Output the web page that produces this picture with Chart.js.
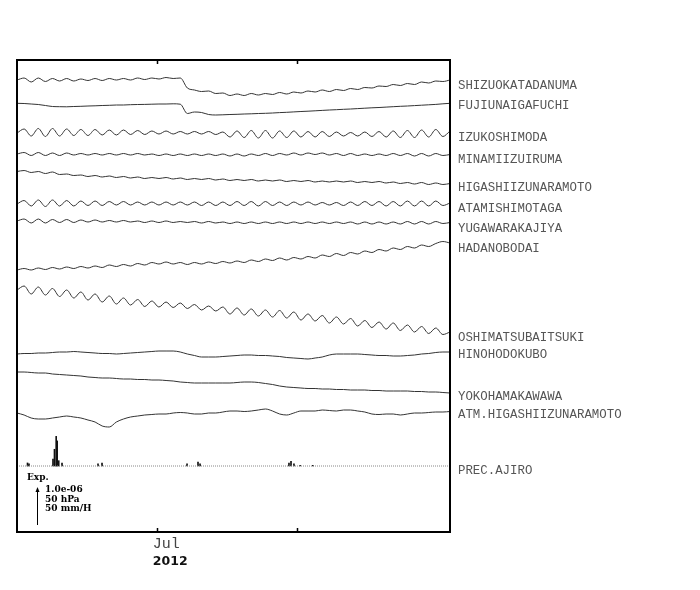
<!DOCTYPE html>
<html>
<head>
<meta charset="utf-8">
<script src="https://cdn.jsdelivr.net/npm/chart.js@4.4.1/dist/chart.umd.min.js"></script>
<style>
  html, body { margin: 0; background: #fff; }
</style>
</head>
<body>
<canvas id="strain" width="700" height="590"></canvas>
<script>
// station names, top to bottom
const stations = ['SHIZUOKATADANUMA', 'FUJIUNAIGAFUCHI', 'IZUKOSHIMODA', 'MINAMIIZUIRUMA',
  'HIGASHIIZUNARAMOTO', 'ATAMISHIMOTAGA', 'YUGAWARAKAJIYA', 'HADANOBODAI',
  'OSHIMATSUBAITSUKI', 'HINOHODOKUBO', 'YOKOHAMAKAWAWA', 'ATM.HIGASHIIZUNARAMOTO']

// trace baselines (plot units, from bottom of frame)
const offsets = [447, 427, 395, 373, 345, 324, 304, 284, 195, 178, 136, 118]
const precOffset = 66

// days since 31 May 2012, samples every 96/61 days
const dayMax = 96
const monthTicks = [31, 62]
const monthLabels = ['Jul', '']
const yearLabel = '2012'

const shizuoka = [5, 7, 3, 7, 3.5, 6.5, 4, 6.5, 4, 6,
  4.5, 6.5, 4.5, 6.5, 5, 6.5, 5, 7, 5.5, 7,
  6, 7.5, 6.5, 7, -3, -5, -6.5, -6, -8.5, -8,
  -10.5, -9, -10.5, -8.5, -10, -8.5, -9.5, -7.5, -9, -7,
  -8, -6, -7, -5, -6.5, -4.5, -5.5, -3.5, -4.5, -2.5,
  -3, -1, -1.5, 0.5, -0.5, 1.5, 0.5, 3, 2, 4,
  3.5, 5]
const fujiunai = [1.7, 1.5, 1, 0.5, -0.5, -1.5, -1.7, -1.8, -1.5, -1.3,
  -1, -0.8, -0.5, -0.3, 0, 0, 0.3, 0.5, 0.6, 0.8,
  1, 1, 1.2, 0.8, -8.5, -7, -7.5, -9.5, -10, -9.8,
  -9.5, -9.3, -9, -8.8, -8.5, -8.3, -8, -7.6, -7.3, -6.9,
  -6.5, -6.2, -5.8, -5.4, -5, -4.7, -4.3, -4, -3.6, -3.2,
  -2.8, -2.5, -2.1, -1.7, -1.3, -1, -0.6, -0.2, 0.2, 0.6,
  1.2, 1.7]
const izukoshimoda = [4, 8, 1, 8.5, 0.5, 8.5, 1, 8, 1.5, 7.5,
  1.5, 7.5, 2, 7, 2, 7, 2.5, 6.5, 2.5, 6,
  3, 6, 3, 5.5, 3, 5.5, 3, 5.5, 2.5, 5,
  0, 6, -0.5, 6.5, -1, 6.5, -1, 6, -0.5, 6,
  0, 5.5, 0, 5.5, 0.5, 5, 1, 4.5, 1, 5,
  0.5, 5.5, 0, 6, -0.5, 6.5, -0.5, 7, 0, 7.5,
  0.5, 6]
const minamiizu = [5, 6.5, 3.5, 6.5, 3.5, 6, 3.5, 6, 4, 5.5,
  4, 5.5, 4, 5.5, 4, 5.5, 4, 5.5, 4, 5,
  3.5, 5, 3.5, 5, 3.5, 5, 3.5, 5, 3.5, 5,
  3, 5, 3, 5, 3.5, 5.5, 3.5, 5.5, 4, 6,
  4, 6, 4.5, 6, 4, 5.5, 3.5, 5.5, 3.5, 5,
  3.5, 5, 3.5, 5.5, 3.5, 5.5, 3, 5.5, 3, 5.5,
  3.5, 4.5]
const higashiizu = [15.5, 16.5, 14.5, 15.5, 13.5, 15, 12.5, 13, 11.5, 12,
  10.5, 11.5, 10, 11, 9.5, 10.5, 9, 10, 8.5, 9.5,
  8.5, 9.5, 8, 9, 7.5, 8.5, 7.5, 8.5, 7, 8,
  6.5, 7.5, 6.5, 7.5, 6, 7, 6, 7, 5.5, 6.5,
  5.5, 6.5, 5, 6, 5, 6, 5, 6, 4.5, 5.5,
  4.5, 5.5, 4, 5, 3.5, 4.5, 3, 4.5, 2.5, 4,
  2.5, 3.5]
const atami = [4, 7.5, 2, 8, 1.5, 8, 2, 7.5, 2, 7,
  2.5, 7, 2.5, 6.5, 3, 6.5, 3, 6, 3, 6,
  3, 6, 3, 6, 3, 6, 2.5, 6, 2.5, 6,
  2.5, 6.5, 2.5, 6.5, 2, 6.5, 2.5, 6, 2.5, 6,
  3, 6, 3, 5.5, 3, 5.5, 2.5, 6, 2.5, 6.5,
  2.5, 6.5, 2, 6.5, 2, 7, 2, 7, 2, 7,
  2.5, 5]
const yugawara = [7, 9, 5, 9, 5, 8.5, 5.5, 8.5, 5.5, 8,
  6, 8, 6, 7.5, 6, 7.5, 6, 7, 5.5, 7,
  5.5, 7, 5.5, 6.5, 5.5, 6.5, 5, 6.5, 5, 6,
  4.5, 6, 4.5, 6, 4.5, 6, 4.5, 6, 4.5, 6,
  4.5, 6, 4.5, 6, 4.5, 6, 4.5, 6, 4, 6,
  4, 6, 4, 6, 4, 6.5, 4, 6.5, 4, 6.5,
  4.5, 5.5]
const hadano = [-22, -20.5, -22, -20, -21.5, -19.5, -21, -19, -20.5, -18.5,
  -20, -18, -19.5, -17, -18.5, -16.5, -18, -15.5, -17, -14.5,
  -16, -14, -16, -14.5, -16.5, -14.5, -16, -14, -15.5, -13.5,
  -15, -13, -14.5, -12, -13.5, -11, -12.5, -10, -12, -9.5,
  -11, -8.5, -10, -7, -8.5, -5.5, -7.5, -4.5, -6, -3,
  -4.5, -1.5, -3, 0, -1.5, 1.5, 0, 3, 1.5, 4.5,
  6.5, 5]
const oshima = [47, 51, 43, 50, 42, 48.5, 40.5, 47, 39, 45,
  37, 43, 35, 41, 33, 39, 32, 37.5, 30.5, 36,
  30, 35, 29.5, 34, 28.5, 32.5, 27, 31, 26, 30,
  23, 29, 22, 28, 21, 27, 20, 26.5, 19, 25,
  17, 23, 16, 21.5, 14, 20, 13, 18.5, 11, 16.5,
  9.5, 15, 8, 14, 6.5, 12, 5, 10.5, 3.5, 9,
  2.5, 5]
const hinohodo = [0, 0.5, 0.5, 1, 1, 1.5, 2, 2, 2.5, 2,
  1.5, 1, 0.5, 0.5, 0, 0.5, 1, 1.5, 2, 2.5,
  3, 3, 3, 2, 0, -1.5, -3, -3, -3, -2.5,
  -2, -1.5, -1, -1, -1.5, -1.5, -2, -2.5, -3.5, -4,
  -4.5, -5, -4, -3, -1, 0, 0, 0, 0, -0.5,
  -1, -1.5, -1.5, -2, -2, -1.5, -1, 0, 0.5, 1.5,
  2, 2]
const yokohama = [24, 24, 23.5, 23, 23, 22, 21.5, 21, 20.5, 20,
  19, 18.5, 18, 18, 17.5, 17, 17, 16.5, 16.5, 16,
  16, 15.5, 15, 14, 13.5, 13, 13, 13, 13, 13,
  13, 13.5, 14, 14, 13.5, 12.5, 11.5, 10, 9, 8.5,
  8, 7.5, 7.5, 7, 7, 6.5, 6.5, 6, 6, 6,
  5.5, 5.5, 5, 5, 5, 5, 4.5, 4.5, 4, 4,
  3.5, 3]
const atmHigashi = [1, -1, -4, -5, -5, -4, -3, -2, -3, -4,
  -6, -8, -12, -13, -8, -5, -3, -2, -1, -0.5,
  0, 0, 1, 1.5, 1, 0, 0, 1, 1, 2,
  3, 3, 2.5, 3, 4, 5, 3, 0, -1, 1,
  3, 3, 3, 4, 3.5, 3, 4, 4, 3, 2,
  0, -0.5, 0, 0, -1, 0, 1, 1, 1.5, 2,
  2, 2.5]

const traces = [shizuoka, fujiunai, izukoshimoda, minamiizu, higashiizu, atami,
  yugawara, hadano, oshima, hinohodo, yokohama, atmHigashi]

// hourly precipitation at Ajiro (mm/H)
const rainDay = [2.33, 2.66, 7.98, 8.31, 8.69, 8.91, 9.25, 9.98, 17.96, 18.85,
  37.7, 40.13, 40.58, 60.3, 60.75, 61.4, 62.75, 65.6]
const rainMm = [4, 3, 9, 22, 39, 33, 7, 4, 3, 4, 3, 5, 3, 4, 6, 3, 1, 1]
const rainScale = 0.76   // 50 mm/H = 38 plot units (arrow)

const step = dayMax / (shizuoka.length - 1)

var datasets = traces.map(function(vals, k) {
  return {
    label: stations[k],
    data: vals.map(function(v, i) { return { x: i * step, y: offsets[k] + v } }),
    borderColor: '#333',
    borderWidth: 1,
    pointRadius: 0,
    cubicInterpolationMode: 'monotone',
    fill: false
  }
})

datasets.push({
  label: 'PREC.AJIRO base',
  data: [{ x: 0, y: precOffset }, { x: dayMax, y: precOffset }],
  borderColor: '#888',
  borderWidth: 1,
  borderDash: [1, 1],
  pointRadius: 0
})

datasets.push({
  type: 'bar',
  label: 'PREC.AJIRO',
  data: rainDay.map(function(d, i) { return { x: d, y: [precOffset, precOffset + rainMm[i] * rainScale] } }),
  backgroundColor: '#111',
  barThickness: 1,
  grouped: false
})

const decor = {
  id: 'decor',
  afterDraw: function(chart) {
    const ctx = chart.ctx
    const a = chart.chartArea
    const xs = chart.scales.x
    const ys = chart.scales.y
    ctx.save()

    // frame
    ctx.strokeStyle = '#000'
    ctx.lineWidth = 2
    ctx.strokeRect(a.left, a.top, a.right - a.left, a.bottom - a.top)

    // month ticks top and bottom
    ctx.lineWidth = 1.5
    monthTicks.forEach(function(d) {
      const px = Math.round(xs.getPixelForValue(d)) + 0.5
      ctx.beginPath()
      ctx.moveTo(px, a.top); ctx.lineTo(px, a.top + 4)
      ctx.moveTo(px, a.bottom); ctx.lineTo(px, a.bottom - 4)
      ctx.stroke()
    })

    // month / year labels
    ctx.fillStyle = '#444'
    ctx.textAlign = 'left'
    ctx.textBaseline = 'middle'
    ctx.font = '15px "Liberation Mono"'
    monthTicks.forEach(function(d, i) {
      if (monthLabels[i]) ctx.fillText(monthLabels[i], xs.getPixelForValue(d) - 4, a.bottom + 12)
    })
    ctx.fillStyle = '#111'
    ctx.font = 'bold 12.5px "DejaVu Sans"'
    ctx.fillText(yearLabel, xs.getPixelForValue(monthTicks[0]) - 4, a.bottom + 29.5)

    // station labels
    ctx.fillStyle = '#555'
    ctx.font = '12.4px "Liberation Mono"'
    stations.forEach(function(name, k) {
      ctx.fillText(name, a.right + 8, ys.getPixelForValue(offsets[k]) + 1)
    })
    ctx.fillText('PREC.AJIRO', a.right + 8, ys.getPixelForValue(precOffset) + 5)

    // scale legend
    ctx.fillStyle = '#000'
    ctx.font = 'bold 9px "DejaVu Serif"'
    ctx.fillText('Exp.', a.left + 10, a.bottom - 54)
    ctx.fillText('1.0e-06', a.left + 28, a.bottom - 42)
    ctx.fillText('50 hPa', a.left + 28, a.bottom - 32.5)
    ctx.fillText('50 mm/H', a.left + 28, a.bottom - 23)
    const ax = a.left + 20.5
    const top = a.bottom - 38 - 7
    ctx.strokeStyle = '#000'
    ctx.lineWidth = 1
    ctx.beginPath()
    ctx.moveTo(ax, a.bottom - 7); ctx.lineTo(ax, top + 3)
    ctx.stroke()
    ctx.beginPath()
    ctx.moveTo(ax, top); ctx.lineTo(ax - 2, top + 5); ctx.lineTo(ax + 2, top + 5)
    ctx.closePath()
    ctx.fill()

    ctx.restore()
  }
}

var ctx = document.getElementById('strain').getContext('2d')
new Chart(ctx, {
  type: 'line',
  data: { datasets: datasets },
  options: {
    responsive: false,
    animation: false,
    layout: { padding: { left: 17, top: 60, right: 250, bottom: 58 } },
    scales: {
      x: { type: 'linear', min: 0, max: dayMax, offset: false, display: false },
      y: { type: 'linear', min: 0, max: 472, display: false }
    },
    plugins: { legend: { display: false }, tooltip: { enabled: false } }
  },
  plugins: [decor]
})
</script>
</body>
</html>
